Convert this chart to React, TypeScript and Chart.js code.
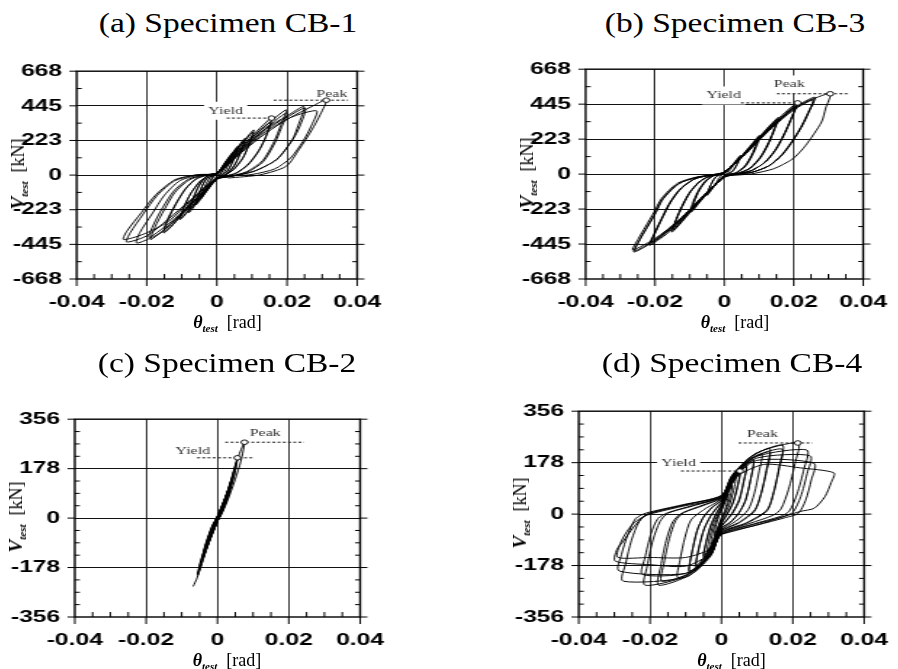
import React, { useEffect, useRef } from 'react';
import { Chart, registerables } from 'chart.js';

Chart.register(...registerables);

// ---------- axis ticks ----------
const xMajorTicks = [-0.04, -0.02, 0, 0.02, 0.04];
const xTickLabels = ['-0.04', '-0.02', '0', '0.02', '0.04'];
const xMinorDiv = 4;

const yMajorTicksTop = [-667.2, -444.8, -222.4, 0, 222.4, 444.8, 667.2];
const yTickLabelsTop = ['-668', '-445', '-223', '0', '223', '445', '668'];
const yMinorDivTop = 2;

const yMajorTicksBottom = [-355.9, -177.9, 0, 177.9, 355.9];
const yTickLabelsBottom = ['-356', '-178', '0', '178', '356'];
const yMinorDivBottom = 4;

// ---------- (a) Specimen CB-1 : [theta (rad), V (kN)] ----------
const cb1Loops = [
  [[0,0],[0.001,30],[0.002,58],[0.0016,32],[0.0006,2],[0,-8],[-0.001,-35],[-0.002,-62],[-0.0016,-34],[-0.0006,-3]],
  [[0,0],[0.0015,52],[0.003,98],[0.0025,58],[0.001,6],[0,-12],[-0.0015,-56],[-0.003,-102],[-0.0025,-60],[-0.001,-6]],
  [[0,4],[0.0022,78],[0.0045,145],[0.0038,92],[0.002,16],[0,-18],[-0.0022,-82],[-0.0045,-150],[-0.0038,-94],[-0.002,-16]],
  [[0,6],[0.003,100],[0.006,186],[0.0052,124],[0.003,26],[0,-20],[-0.003,-106],[-0.006,-192],[-0.0052,-126],[-0.003,-24]],
  [[0,8],[0.003,96],[0.006,178],[0.0051,116],[0.0029,22],[0,-22],[-0.003,-100],[-0.006,-184],[-0.0051,-118],[-0.0029,-20]],
  [[0,8],[0.004,122],[0.008,236],[0.007,160],[0.0052,72],[0.003,12],[0,-24],[-0.004,-128],[-0.008,-242],[-0.007,-164],[-0.0052,-74],[-0.003,-10]],
  [[0,10],[0.004,118],[0.008,226],[0.0069,150],[0.0051,64],[0.0029,8],[0,-26],[-0.004,-122],[-0.008,-232],[-0.0069,-154],[-0.0051,-66],[-0.0029,-6]],
  [[0,10],[0.005,146],[0.0105,290],[0.0093,205],[0.0075,115],[0.005,42],[0.0025,2],[0,-22],[-0.005,-150],[-0.0105,-286],[-0.0095,-210],[-0.0075,-120],[-0.005,-45],[-0.0025,-5]],
  [[0,12],[0.005,140],[0.0103,276],[0.0091,192],[0.0073,104],[0.0048,36],[0.0024,0],[0,-24],[-0.005,-144],[-0.0103,-278],[-0.0093,-200],[-0.0073,-112],[-0.0048,-40],[-0.0024,-4]],
  [[0,12],[0.005,134],[0.0105,262],[0.0156,366],[0.0142,262],[0.012,160],[0.009,72],[0.0055,14],[0.0025,-6],[0,-24],[-0.005,-136],[-0.0105,-270],[-0.0151,-372],[-0.014,-290],[-0.0115,-180],[-0.009,-90],[-0.006,-26],[-0.003,-2]],
  [[0,14],[0.0055,140],[0.011,262],[0.0153,340],[0.014,245],[0.0118,150],[0.0088,64],[0.0054,10],[0.0025,-6],[0,-26],[-0.0055,-144],[-0.011,-272],[-0.015,-350],[-0.0138,-270],[-0.0113,-168],[-0.0088,-84],[-0.0058,-22],[-0.003,0]],
  [[0,14],[0.006,150],[0.012,278],[0.0197,419],[0.0182,320],[0.0163,215],[0.013,92],[0.0085,22],[0.004,-6],[0,-26],[-0.006,-154],[-0.012,-288],[-0.0188,-414],[-0.0177,-336],[-0.015,-222],[-0.012,-112],[-0.008,-32],[-0.004,-2]],
  [[0,14],[0.006,144],[0.012,266],[0.0199,400],[0.0184,304],[0.0164,200],[0.0132,86],[0.0088,20],[0.004,-8],[0,-26],[-0.006,-150],[-0.012,-280],[-0.0193,-400],[-0.0181,-320],[-0.0154,-206],[-0.0122,-100],[-0.0082,-28],[-0.004,0]],
  [[0,14],[0.007,160],[0.014,300],[0.02,380],[0.0248,440],[0.0232,320],[0.0215,228],[0.017,100],[0.0105,24],[0.004,-8],[0,-22],[-0.007,-160],[-0.013,-329],[-0.019,-405],[-0.0229,-436],[-0.022,-370],[-0.0185,-250],[-0.015,-130],[-0.0105,-35],[-0.005,0]],
  [[0,12],[0.007,156],[0.014,292],[0.02,372],[0.0252,430],[0.0236,310],[0.0216,227],[0.017,99],[0.0105,24],[0.0035,-10],[0,-22],[-0.007,-154],[-0.014,-300],[-0.021,-380],[-0.0266,-414],[-0.0257,-361],[-0.0215,-240],[-0.0174,-126],[-0.0119,-29],[-0.0055,3]],
  [[0,12],[0.007,150],[0.014,280],[0.021,370],[0.0284,413],[0.027,320],[0.0245,215],[0.021,110],[0.0165,40],[0.01,4],[0,-20],[-0.007,-150],[-0.014,-285],[-0.02,-390],[-0.0257,-430],[-0.0247,-370],[-0.021,-250],[-0.017,-130],[-0.012,-36],[-0.006,0]],
  [[0,10],[0.007,145],[0.014,270],[0.021,370],[0.027,440],[0.0312,483],[0.0295,390],[0.0271,291],[0.0234,163],[0.0197,56],[0.0124,2],[0.0032,-19]],
];
const cb1Yield = [0.0156, 366];
const cb1Peak = [0.0312, 481];
const cb1YieldLine = [0.0028, 0.0156];
const cb1PeakLine = [0.0162, 0.0374];
const cb1YieldLabel = [0.0025, 413];
const cb1PeakLabel = [0.0328, 522];

// ---------- (b) Specimen CB-3 ----------
const cb3Loops = [
  [[0,2],[0.0012,30],[0.0025,62],[0.002,38],[0.0008,6],[0,-6],[-0.0012,-32],[-0.0025,-66],[-0.002,-40],[-0.0008,-6]],
  [[0,4],[0.0023,58],[0.0046,119],[0.004,80],[0.0024,20],[0,-10],[-0.0025,-66],[-0.005,-136],[-0.0044,-92],[-0.0026,-20]],
  [[0,6],[0.0022,54],[0.0046,112],[0.004,74],[0.0023,16],[0,-12],[-0.0025,-62],[-0.005,-128],[-0.0043,-86],[-0.0025,-18]],
  [[0,8],[0.0035,80],[0.007,168],[0.0101,246],[0.0092,190],[0.0078,120],[0.006,55],[0.0035,10],[0.0015,0],[0,-12],[-0.0035,-88],[-0.007,-176],[-0.0096,-242],[-0.0088,-180],[-0.0074,-110],[-0.0055,-50],[-0.0032,-12],[-0.0015,-2]],
  [[0,8],[0.0035,78],[0.007,162],[0.0103,240],[0.0094,182],[0.0079,112],[0.0061,50],[0.0036,8],[0.0015,-1],[0,-14],[-0.0035,-86],[-0.007,-170],[-0.0098,-236],[-0.009,-174],[-0.0075,-104],[-0.0056,-46],[-0.0033,-10],[-0.0015,-2]],
  [[0,8],[0.0035,76],[0.007,158],[0.0099,234],[0.009,176],[0.0076,108],[0.0058,48],[0.0034,8],[0.0015,-1],[0,-14],[-0.0035,-84],[-0.007,-166],[-0.0094,-228],[-0.0086,-168],[-0.0072,-100],[-0.0053,-44],[-0.0031,-10],[-0.0015,-2]],
  [[0,10],[0.004,92],[0.0085,200],[0.0156,362],[0.0145,290],[0.0128,200],[0.0105,110],[0.0075,40],[0.004,5],[0,-16],[-0.004,-100],[-0.0085,-210],[-0.0151,-369],[-0.014,-290],[-0.0122,-200],[-0.01,-115],[-0.007,-45],[-0.004,-12],[-0.0015,-3]],
  [[0,10],[0.004,90],[0.0085,194],[0.0153,352],[0.0142,280],[0.0125,192],[0.0102,104],[0.0072,36],[0.0038,4],[0,-16],[-0.004,-98],[-0.0085,-204],[-0.0148,-358],[-0.0137,-282],[-0.0119,-194],[-0.0097,-110],[-0.0068,-42],[-0.0038,-10],[-0.0015,-3]],
  [[0,10],[0.004,88],[0.0085,190],[0.0154,345],[0.0143,274],[0.0126,186],[0.0103,100],[0.0073,34],[0.0039,4],[0,-16],[-0.004,-96],[-0.0085,-200],[-0.0147,-350],[-0.0136,-276],[-0.0118,-190],[-0.0096,-106],[-0.0067,-40],[-0.0037,-10],[-0.0015,-3]],
  [[0,12],[0.005,112],[0.011,250],[0.0165,372],[0.0211,453],[0.0195,360],[0.0175,260],[0.015,160],[0.012,80],[0.008,25],[0.004,2],[0,-18],[-0.005,-120],[-0.011,-260],[-0.0165,-378],[-0.0216,-453],[-0.0203,-380],[-0.0183,-290],[-0.016,-190],[-0.013,-100],[-0.009,-35],[-0.005,-10]],
  [[0,12],[0.005,110],[0.011,244],[0.0165,362],[0.0207,440],[0.0192,350],[0.0172,252],[0.0147,154],[0.0117,76],[0.0078,22],[0.004,2],[0,-18],[-0.005,-118],[-0.011,-254],[-0.0165,-368],[-0.0212,-440],[-0.0199,-370],[-0.018,-282],[-0.0157,-184],[-0.0127,-96],[-0.0088,-33],[-0.0049,-9]],
  [[0,12],[0.005,108],[0.011,240],[0.0165,356],[0.0205,430],[0.019,342],[0.017,246],[0.0145,150],[0.0115,72],[0.0076,20],[0.004,2],[0,-18],[-0.005,-116],[-0.011,-250],[-0.0165,-362],[-0.021,-432],[-0.0197,-362],[-0.0178,-276],[-0.0155,-180],[-0.0125,-92],[-0.0086,-31],[-0.0048,-9]],
  [[0,14],[0.006,130],[0.013,290],[0.02,422],[0.0261,489],[0.0245,400],[0.0225,310],[0.02,220],[0.017,130],[0.013,55],[0.008,12],[0.003,0],[0,-20],[-0.006,-140],[-0.013,-300],[-0.02,-424],[-0.0261,-496],[-0.0245,-420],[-0.0225,-345],[-0.02,-250],[-0.0179,-160],[-0.0133,-62],[-0.0078,-20],[-0.0023,-4]],
  [[0,14],[0.006,128],[0.013,284],[0.02,414],[0.0258,478],[0.0242,390],[0.0222,300],[0.0197,212],[0.0167,124],[0.0128,52],[0.0078,11],[0.003,0],[0,-20],[-0.006,-138],[-0.013,-294],[-0.02,-416],[-0.0258,-488],[-0.0242,-412],[-0.0222,-338],[-0.0197,-244],[-0.0176,-156],[-0.013,-60],[-0.0076,-19],[-0.0022,-4]],
  [[0,14],[0.006,126],[0.013,280],[0.02,408],[0.0255,470],[0.0239,382],[0.0219,294],[0.0194,206],[0.0164,120],[0.0126,50],[0.0077,10],[0.003,0],[0,-20],[-0.006,-136],[-0.013,-290],[-0.02,-410],[-0.0264,-482],[-0.0248,-410],[-0.0228,-336],[-0.0203,-242],[-0.0181,-154],[-0.0135,-58],[-0.0079,-18],[-0.0024,-4]],
  [[0,14],[0.006,130],[0.013,290],[0.02,420],[0.026,482],[0.0305,511],[0.0292,420],[0.028,331],[0.0234,182],[0.0197,97],[0.0142,34],[0.0078,2],[0,-12]],
];
const cb3Yield = [0.0211, 453];
const cb3Peak = [0.0305, 511];
const cb3YieldLine = [0.0048, 0.0211];
const cb3PeakLine = [0.0151, 0.036];
const cb3YieldLabel = [-0.0002, 500];
const cb3PeakLabel = [0.0187, 570];

// ---------- (c) Specimen CB-2 ----------
const cb2Loops = [
  [[0,0],[0.0005,12],[0.001,30],[0.0007,16],[0.0002,2],[0,-4],[-0.0005,-14],[-0.001,-32],[-0.0007,-18],[-0.0002,-3]],
  [[0,0],[0.001,30],[0.002,66],[0.0016,44],[0.0006,10],[0,-6],[-0.001,-34],[-0.002,-72],[-0.0016,-46],[-0.0006,-12]],
  [[0,2],[0.0015,48],[0.003,102],[0.0025,70],[0.001,18],[0,-8],[-0.0015,-52],[-0.003,-108],[-0.0025,-74],[-0.001,-20]],
  [[0,2],[0.0015,46],[0.003,98],[0.0025,66],[0.001,16],[0,-8],[-0.0015,-50],[-0.003,-104],[-0.0025,-70],[-0.001,-18]],
  [[0,4],[0.002,66],[0.004,142],[0.0034,98],[0.0015,28],[0,-10],[-0.002,-72],[-0.0042,-150],[-0.0035,-104],[-0.0015,-30]],
  [[0,4],[0.002,64],[0.004,136],[0.0034,94],[0.0015,26],[0,-10],[-0.002,-70],[-0.0042,-145],[-0.0035,-100],[-0.0015,-28]],
  [[0,6],[0.003,104],[0.0056,217],[0.0048,160],[0.0025,66],[0.001,18],[0,-12],[-0.003,-110],[-0.0055,-205],[-0.0048,-160],[-0.0025,-70],[-0.001,-22]],
  [[0,6],[0.003,100],[0.0055,208],[0.0047,152],[0.0024,60],[0.001,16],[0,-12],[-0.003,-106],[-0.0055,-200],[-0.0047,-154],[-0.0024,-64],[-0.001,-20]],
  [[0,8],[0.003,100],[0.0056,212],[0.0076,273],[0.0066,205],[0.005,140],[0.0028,62],[0.001,10],[0,-12],[-0.003,-110],[-0.0057,-215],[-0.0068,-246]],
];
const cb2Yield = [0.0056, 217];
const cb2Peak = [0.0076, 273];
const cb2YieldLine = [-0.0057, 0.0101];
const cb2PeakLine = [0.0022, 0.0243];
const cb2YieldLabel = [-0.0069, 240];
const cb2PeakLabel = [0.0134, 307];

// ---------- (d) Specimen CB-4 ----------
const cb4Loops = [
  [[0,10],[0.001,40],[0.002,70],[0.0016,40],[0.0008,8],[0,-12],[-0.001,-45],[-0.002,-75],[-0.0016,-44],[-0.0008,-10]],
  [[0,14],[0.0015,60],[0.003,100],[0.0025,62],[0.0013,16],[0,-18],[-0.0015,-64],[-0.003,-105],[-0.0025,-66],[-0.0013,-18]],
  [[0,20],[0.002,80],[0.004,125],[0.0034,82],[0.0022,30],[0.001,0],[0,-24],[-0.002,-86],[-0.004,-130],[-0.0034,-86],[-0.0022,-32],[-0.001,-2]],
  [[0,26],[0.0025,100],[0.0052,149],[0.0045,98],[0.0032,40],[0.0015,0],[0,-30],[-0.0025,-104],[-0.005,-150],[-0.0043,-100],[-0.003,-42],[-0.0015,-2]],
  [[0,30],[0.0025,96],[0.0052,140],[0.0045,92],[0.0032,36],[0.0015,-4],[0,-34],[-0.0025,-100],[-0.005,-144],[-0.0043,-96],[-0.003,-38],[-0.0015,2]],
  [[0,34],[0.003,115],[0.007,170],[0.0062,112],[0.005,52],[0.0032,8],[0.0015,-20],[0,-40],[-0.003,-122],[-0.0072,-186],[-0.0064,-120],[-0.005,-56],[-0.0032,-10],[-0.0015,18]],
  [[0,38],[0.003,110],[0.007,165],[0.0062,106],[0.005,46],[0.0032,4],[0.0015,-22],[0,-44],[-0.003,-118],[-0.007,-178],[-0.0062,-114],[-0.0048,-50],[-0.003,-6],[-0.0015,20]],
  [[0,42],[0.003,120],[0.006,165],[0.009,190],[0.0082,120],[0.0068,50],[0.005,6],[0.0025,-28],[0,-48],[-0.003,-128],[-0.006,-180],[-0.009,-203],[-0.0082,-130],[-0.0068,-56],[-0.005,-10],[-0.0025,24]],
  [[0,46],[0.003,116],[0.006,160],[0.009,185],[0.0081,114],[0.0067,44],[0.0048,2],[0.0024,-30],[0,-50],[-0.003,-124],[-0.006,-175],[-0.009,-196],[-0.0081,-124],[-0.0066,-50],[-0.0048,-6],[-0.0024,26]],
  [[0,50],[0.003,125],[0.007,180],[0.0113,207],[0.0106,150],[0.0092,70],[0.0075,15],[0.004,-25],[0,-55],[-0.003,-130],[-0.007,-190],[-0.0122,-220],[-0.0116,-160],[-0.0102,-80],[-0.0085,-20],[-0.005,15]],
  [[0,54],[0.003,130],[0.008,195],[0.0135,227],[0.0127,160],[0.0112,75],[0.0094,15],[0.005,-28],[0,-58],[-0.003,-135],[-0.009,-205],[-0.0167,-232],[-0.0161,-170],[-0.0146,-85],[-0.0128,-22],[-0.0105,5],[-0.005,30]],
  [[0,56],[0.003,126],[0.008,188],[0.0135,215],[0.0127,150],[0.0111,68],[0.0093,10],[0.005,-30],[0,-60],[-0.003,-140],[-0.009,-212],[-0.0176,-246],[-0.017,-180],[-0.0155,-92],[-0.0136,-26],[-0.011,4],[-0.005,32]],
  [[0,58],[0.003,132],[0.009,205],[0.0171,239],[0.0163,170],[0.0147,80],[0.0128,15],[0.007,-30],[0,-62],[-0.003,-140],[-0.01,-215],[-0.0214,-246],[-0.0208,-180],[-0.0192,-90],[-0.0172,-25],[-0.015,3],[-0.008,28]],
  [[0,60],[0.003,128],[0.009,198],[0.017,225],[0.0162,158],[0.0146,70],[0.0127,10],[0.007,-32],[0,-64],[-0.003,-140],[-0.01,-205],[-0.0221,-209],[-0.0214,-150],[-0.0198,-70],[-0.0178,-15],[-0.015,5],[-0.008,30]],
  [[0,62],[0.003,135],[0.01,212],[0.0214,246],[0.0206,175],[0.0188,85],[0.0167,18],[0.0145,-4],[0.008,-32],[0,-66],[-0.003,-145],[-0.01,-218],[-0.0275,-232],[-0.0268,-170],[-0.0252,-90],[-0.023,-25],[-0.0205,0],[-0.011,30]],
  [[0,64],[0.003,130],[0.01,200],[0.0239,222],[0.0231,155],[0.0212,70],[0.019,10],[0.0165,-8],[0.009,-34],[0,-68],[-0.003,-140],[-0.01,-205],[-0.0286,-197],[-0.028,-140],[-0.0262,-70],[-0.024,-15],[-0.021,4],[-0.011,32]],
  [[0,64],[0.003,126],[0.01,194],[0.0248,202],[0.024,140],[0.0222,60],[0.02,6],[0.017,-10],[0.009,-36],[0,-70],[-0.003,-136],[-0.01,-180],[-0.02,-175],[-0.0297,-163],[-0.0293,-123],[-0.0275,-94],[-0.0248,-48],[-0.0212,-2],[-0.0166,15],[-0.0077,38]],
  [[0,61],[0.003,122],[0.01,186],[0.0259,176],[0.0252,118],[0.0236,48],[0.0215,2],[0.018,-12],[0.01,-38],[0,-70],[-0.003,-120],[-0.01,-150],[-0.02,-150],[-0.029,-150],[-0.0286,-110],[-0.027,-70],[-0.0245,-30],[-0.021,-4],[-0.012,24]],
  [[0,58],[0.004,128],[0.012,172],[0.022,160],[0.0315,143],[0.0308,110],[0.029,60],[0.026,20],[0.022,9],[0.012,-30],[0,-70]],
];
const cb4Yield = [0.0052, 149];
const cb4Peak = [0.0214, 246];
const cb4YieldLine = [-0.0113, 0.0052];
const cb4PeakLine = [0.0048, 0.0255];
const cb4YieldLabel = [-0.012, 178];
const cb4PeakLabel = [0.0115, 275];

// ---------- layout ----------
const S = 1.45; // horizontal stretch of the original figure
const YW = 48;
const RP = 20;
const TP = 18;
const XH = 45;
const serif = '"Liberation Serif", "Times New Roman", Times, serif';
const sans = '"Liberation Sans", Arial, Helvetica, sans-serif';

type Area = { L: number; R: number; T: number; B: number };
type Spec = {
  title: string;
  area: Area;
  loops: number[][][];
  yieldPt: number[];
  peakPt: number[];
  yieldLine: number[];
  peakLine: number[];
  yieldLabel: number[];
  peakLabel: number[];
  yMajor: number[];
  yLabels: string[];
  yMinorDiv: number;
};

function allTicks(major: number[], div: number): number[] {
  const out: number[] = [];
  for (let i = 0; i < major.length - 1; i++) {
    for (let k = 0; k < div; k++) out.push(major[i] + ((major[i + 1] - major[i]) * k) / div);
  }
  out.push(major[major.length - 1]);
  return out;
}

function majorIndex(v: number, major: number[]): number {
  const tol = Math.abs(major[major.length - 1] - major[0]) * 1e-6;
  return major.findIndex((m) => Math.abs(m - v) < tol);
}

function Panel({ spec }: { spec: Spec }) {
  const ref = useRef<HTMLCanvasElement | null>(null);
  const { L, R, T, B } = spec.area;
  const Wc = YW + Math.round((R - L) / S) + RP;
  const Hc = TP + (B - T) + XH;

  useEffect(() => {
    if (!ref.current) return;
    const xTicks = allTicks(xMajorTicks, xMinorDiv);
    const yTicks = allTicks(spec.yMajor, spec.yMinorDiv);
    const yMin = spec.yMajor[0];
    const yMax = spec.yMajor[spec.yMajor.length - 1];

    const decor = {
      id: 'decor',
      beforeDatasetsDraw(chart: any) {
        const { ctx, scales } = chart;
        const xs = scales.x;
        const ys = scales.y;
        ctx.save();
        ctx.font = `11px ${serif}`;
        ctx.textAlign = 'center';
        ctx.textBaseline = 'middle';
        const items: [string, number[]][] = [
          ['Yield', spec.yieldLabel],
          ['Peak', spec.peakLabel],
        ];
        items.forEach(([t, p]) => {
          const px = xs.getPixelForValue(p[0]);
          const py = ys.getPixelForValue(p[1]);
          const w = ctx.measureText(t).width;
          ctx.fillStyle = '#fff';
          ctx.fillRect(px - w / 2 - 3, py - 9, w + 6, 18);
          ctx.fillStyle = '#333';
          ctx.fillText(t, px, py);
        });
        ctx.restore();
      },
      afterDatasetsDraw(chart: any) {
        const { ctx, chartArea, scales } = chart;
        const { left, right, top, bottom } = chartArea;
        const xs = scales.x;
        const ys = scales.y;
        ctx.save();
        ctx.strokeStyle = '#000';
        ctx.lineWidth = 1;
        ctx.beginPath();
        yTicks.forEach((v) => {
          const py = ys.getPixelForValue(v);
          if (majorIndex(v, spec.yMajor) >= 0) {
            ctx.moveTo(left - 5, py);
            ctx.lineTo(left, py);
            ctx.moveTo(right, py);
            ctx.lineTo(right + 5, py);
          } else {
            ctx.moveTo(left, py);
            ctx.lineTo(left + 3.5, py);
            ctx.moveTo(right - 3.5, py);
            ctx.lineTo(right, py);
          }
        });
        xTicks.forEach((v) => {
          const px = xs.getPixelForValue(v);
          if (majorIndex(v, xMajorTicks) >= 0) {
            ctx.moveTo(px, bottom);
            ctx.lineTo(px, bottom + 7);
          } else {
            ctx.moveTo(px, bottom - 5);
            ctx.lineTo(px, bottom);
          }
        });
        ctx.stroke();
        ctx.lineWidth = 1.4;
        ctx.strokeRect(left, top, right - left, bottom - top);
        ctx.restore();
      },
    };

    const loopData = spec.loops.flat().map((p) => ({ x: p[0], y: p[1] }));

    const chart = new Chart(ref.current, {
      type: 'scatter',
      data: {
        datasets: [
          {
            data: [
              { x: spec.yieldPt[0], y: spec.yieldPt[1] },
              { x: spec.peakPt[0], y: spec.peakPt[1] },
            ],
            pointRadius: 2.3,
            pointBorderWidth: 0.9,
            pointBackgroundColor: '#fff',
            pointBorderColor: '#000',
            showLine: false,
          } as any,
          {
            data: [
              { x: spec.yieldLine[0], y: spec.yieldPt[1] },
              { x: spec.yieldLine[1], y: spec.yieldPt[1] },
            ],
            showLine: true,
            borderColor: '#111',
            borderWidth: 1,
            borderDash: [2, 1.6],
            pointRadius: 0,
          },
          {
            data: [
              { x: spec.peakLine[0], y: spec.peakPt[1] },
              { x: spec.peakLine[1], y: spec.peakPt[1] },
            ],
            showLine: true,
            borderColor: '#111',
            borderWidth: 1,
            borderDash: [2, 1.6],
            pointRadius: 0,
          },
          {
            data: loopData,
            showLine: true,
            borderColor: '#000',
            borderWidth: 0.95,
            pointRadius: 0,
            tension: 0.25,
          },
        ],
      },
      options: {
        responsive: false,
        animation: false,
        devicePixelRatio: 1,
        events: [],
        layout: { padding: { left: 0, right: RP, top: TP, bottom: 0 } },
        plugins: { legend: { display: false }, tooltip: { enabled: false }, title: { display: false } },
        scales: {
          x: {
            type: 'linear',
            position: 'bottom',
            min: xMajorTicks[0],
            max: xMajorTicks[xMajorTicks.length - 1],
            afterBuildTicks: (s: any) => {
              s.ticks = xTicks.map((v) => ({ value: v }));
            },
            afterFit: (s: any) => {
              s.height = XH;
            },
            ticks: {
              autoSkip: false,
              maxRotation: 0,
              minRotation: 0,
              padding: 13,
              color: '#000',
              font: { family: sans, size: 17, weight: 'bold' },
              callback: (v: any) => {
                const i = majorIndex(Number(v), xMajorTicks);
                return i >= 0 ? xTickLabels[i] : '';
              },
            },
            grid: {
              drawTicks: false,
              lineWidth: 1,
              color: (c: any) => {
                const v = c.tick ? c.tick.value : NaN;
                const i = majorIndex(v, xMajorTicks);
                return i > 0 && i < xMajorTicks.length - 1 ? '#333' : 'rgba(0,0,0,0)';
              },
            },
            border: { display: false },
          },
          y: {
            type: 'linear',
            position: 'left',
            min: yMin,
            max: yMax,
            afterBuildTicks: (s: any) => {
              s.ticks = yTicks.map((v) => ({ value: v }));
            },
            afterFit: (s: any) => {
              s.width = YW;
            },
            ticks: {
              autoSkip: false,
              padding: 10,
              color: '#000',
              font: { family: sans, size: 17, weight: 'bold' },
              callback: (v: any) => {
                const i = majorIndex(Number(v), spec.yMajor);
                return i >= 0 ? spec.yLabels[i] : '';
              },
            },
            grid: {
              drawTicks: false,
              lineWidth: 1,
              color: (c: any) => {
                const v = c.tick ? c.tick.value : NaN;
                const i = majorIndex(v, spec.yMajor);
                return i > 0 && i < spec.yMajor.length - 1 ? '#111' : 'rgba(0,0,0,0)';
              },
            },
            border: { display: false },
          },
        },
      } as any,
      plugins: [decor as any],
    });
    return () => chart.destroy();
  }, [spec]);

  return (
    <canvas
      ref={ref}
      width={Wc}
      height={Hc}
      style={{
        position: 'absolute',
        left: L - YW * S,
        top: T - TP,
        width: Wc * S,
        height: Hc,
      }}
    />
  );
}

function Title({ text, cx, baseline }: { text: string; cx: number; baseline: number }) {
  return (
    <div
      style={{
        position: 'absolute',
        left: cx,
        top: baseline - 22.6,
        transform: 'translateX(-50%) scaleX(1.24)',
        whiteSpace: 'nowrap',
        fontFamily: serif,
        fontSize: 27,
        lineHeight: '27px',
        color: '#000',
      }}
    >
      {text}
    </div>
  );
}

function VLabel({ cx, cy }: { cx: number; cy: number }) {
  return (
    <div
      style={{
        position: 'absolute',
        left: cx,
        top: cy,
        transform: 'translate(-50%, -50%) rotate(-90deg)',
        whiteSpace: 'nowrap',
        fontFamily: serif,
        fontSize: 18,
        lineHeight: '20px',
        color: '#000',
      }}
    >
      <span style={{ fontWeight: 'bold', fontStyle: 'italic', fontSize: 19 }}>V</span>
      <span style={{ fontWeight: 'bold', fontStyle: 'italic', fontSize: 11, position: 'relative', top: 4 }}>test</span>
      <span>{'\u00a0\u00a0[kN]'}</span>
    </div>
  );
}

function ThetaLabel({ cx, baseline }: { cx: number; baseline: number }) {
  return (
    <div
      style={{
        position: 'absolute',
        left: cx,
        top: baseline - 15.1,
        transform: 'translateX(-50%)',
        whiteSpace: 'nowrap',
        fontFamily: serif,
        fontSize: 18,
        lineHeight: '18px',
        color: '#000',
      }}
    >
      <span style={{ fontWeight: 'bold', fontStyle: 'italic' }}>{'\u03b8'}</span>
      <span style={{ fontWeight: 'bold', fontStyle: 'italic', fontSize: 11, position: 'relative', top: 4 }}>test</span>
      <span>{'\u00a0\u00a0[rad]'}</span>
    </div>
  );
}

const specA: Spec = {
  title: '(a) Specimen CB-1',
  area: { L: 77, R: 372, T: 69, B: 279 },
  loops: cb1Loops,
  yieldPt: cb1Yield, peakPt: cb1Peak, yieldLine: cb1YieldLine, peakLine: cb1PeakLine,
  yieldLabel: cb1YieldLabel, peakLabel: cb1PeakLabel,
  yMajor: yMajorTicksTop, yLabels: yTickLabelsTop, yMinorDiv: yMinorDivTop,
};
const specB: Spec = {
  title: '(b) Specimen CB-3',
  area: { L: 586, R: 878, T: 67, B: 279 },
  loops: cb3Loops,
  yieldPt: cb3Yield, peakPt: cb3Peak, yieldLine: cb3YieldLine, peakLine: cb3PeakLine,
  yieldLabel: cb3YieldLabel, peakLabel: cb3PeakLabel,
  yMajor: yMajorTicksTop, yLabels: yTickLabelsTop, yMinorDiv: yMinorDivTop,
};
const specC: Spec = {
  title: '(c) Specimen CB-2',
  area: { L: 75, R: 373, T: 417, B: 617 },
  loops: cb2Loops,
  yieldPt: cb2Yield, peakPt: cb2Peak, yieldLine: cb2YieldLine, peakLine: cb2PeakLine,
  yieldLabel: cb2YieldLabel, peakLabel: cb2PeakLabel,
  yMajor: yMajorTicksBottom, yLabels: yTickLabelsBottom, yMinorDiv: yMinorDivBottom,
};
const specD: Spec = {
  title: '(d) Specimen CB-4',
  area: { L: 579, R: 878, T: 409, B: 617 },
  loops: cb4Loops,
  yieldPt: cb4Yield, peakPt: cb4Peak, yieldLine: cb4YieldLine, peakLine: cb4PeakLine,
  yieldLabel: cb4YieldLabel, peakLabel: cb4PeakLabel,
  yMajor: yMajorTicksBottom, yLabels: yTickLabelsBottom, yMinorDiv: yMinorDivBottom,
};

const specs = [specA, specB, specC, specD];
const titleBaselines = [33, 33, 373, 373];
const thetaBaselines = [328, 328, 666, 666];

export default function App() {
  return (
    <div
      style={{
        position: 'absolute',
        left: 0,
        top: 0,
        width: 898,
        height: 669,
        overflow: 'hidden',
        background: '#fff',
      }}
    >
      {specs.map((s, i) => {
        const cx = (s.area.L + s.area.R) / 2;
        const cy = (s.area.T + s.area.B) / 2;
        return (
          <React.Fragment key={i}>
            <Panel spec={s} />
            <Title text={s.title} cx={cx + 3} baseline={titleBaselines[i]} />
            <VLabel cx={s.area.L - 58} cy={cy} />
            <ThetaLabel cx={cx + 3} baseline={thetaBaselines[i]} />
          </React.Fragment>
        );
      })}
    </div>
  );
}
